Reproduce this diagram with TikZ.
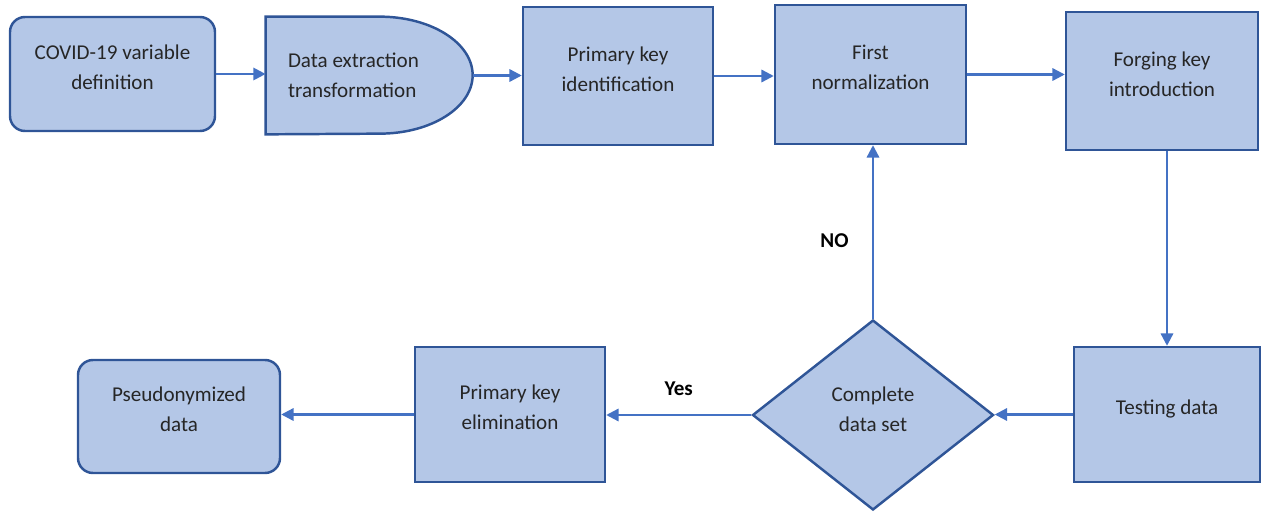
\documentclass[tikz,border=0pt]{standalone}
\usepackage{fontspec}
\setmainfont{Carlito}
\usepackage{tikz}
\usetikzlibrary{arrows.meta,shapes.geometric,positioning,backgrounds}
\definecolor{flowFill}{RGB}{180,199,231}
\definecolor{flowEdge}{RGB}{47,85,151}
\definecolor{flowArrow}{RGB}{68,114,196}
\definecolor{flowText}{RGB}{38,38,38}

\begin{document}
\begin{tikzpicture}[font=\fontsize{12}{17}\selectfont, >={Triangle[length=7pt,width=7pt]},
  boxlook/.style={draw=flowEdge, line width=1.4pt, fill=flowFill, text=flowText},
  stepbox/.style={boxlook, align=center, inner sep=2pt, text depth=0.28cm},
  termbox/.style={stepbox, rounded corners=0.3cm},
  decide/.style={stepbox, diamond, inner sep=0pt, text depth=0.24cm},
  flow/.style={->, draw=flowArrow, line width=1.3pt},
  answer/.style={font=\fontsize{12}{14}\selectfont\bfseries}]
\useasboundingbox (0,0) rectangle (25.22,10.24);
% top row
\node[termbox, minimum width=4.1cm, minimum height=2.28cm] (covid) at (2.25,8.76)
  {COVID-19 variable\\definition};
\node[text=flowText, minimum width=4.14cm, minimum height=2.34cm,
  text width=3.26cm, align=flush left, inner xsep=0pt] (extr) at (7.39,8.73)
  {Data extraction\\transformation};
\node[stepbox, minimum width=3.8cm, minimum height=2.76cm] (pkid) at (12.36,8.72)
  {Primary key\\identification};
\node[stepbox, minimum width=3.82cm, minimum height=2.78cm] (firstnorm) at (17.41,8.75)
  {First\\normalization};
\node[stepbox, minimum width=3.84cm, minimum height=2.76cm] (forging) at (23.24,8.62)
  {Forging key\\introduction};
% bottom row
\node[stepbox, minimum width=3.72cm, minimum height=2.7cm] (testing) at (23.34,1.95)
  {Testing data};
\node[decide, minimum width=4.82cm, minimum height=3.8cm] (complete) at (17.46,1.94)
  {Complete\\data set};
\node[stepbox, minimum width=3.8cm, minimum height=2.7cm] (pkelim) at (10.2,1.95)
  {Primary key\\elimination};
\node[termbox, minimum width=4.04cm, minimum height=2.26cm] (pseudo) at (3.58,1.91)
  {Pseudonymized\\data};
% delay shape behind the extraction step
\begin{scope}[on background layer]
\draw[boxlook] (extr.south west) -- (extr.north west)
  -- ++(2.28,0) arc[start angle=90, end angle=-90, x radius=1.86cm, y radius=1.17cm] -- cycle;
\end{scope}
% connectors
\draw[flow] (covid.east) -- (covid.east -| extr.west);
\draw[flow] (extr.east) -- (extr.east -| pkid.west);
\draw[flow] (pkid.east) -- (pkid.east -| firstnorm.west);
\draw[flow] (firstnorm.east) -- (firstnorm.east -| forging.west);
\draw[flow] ([xshift=0.1cm]forging.south) -- ([xshift=0.1cm]forging.south |- testing.north);
\draw[flow] (testing.west) -- (testing.west -| complete.east);
\draw[flow] (complete.north) -- (complete.north |- firstnorm.south)
  node[pos=0.45, left=0.35cm, answer] {NO};
\draw[flow] (complete.west) -- (complete.west -| pkelim.east)
  node[midway, above=0.25cm, answer] {Yes};
\draw[flow] (pkelim.west) -- (pkelim.west -| pseudo.east);
\end{tikzpicture}
\end{document}
